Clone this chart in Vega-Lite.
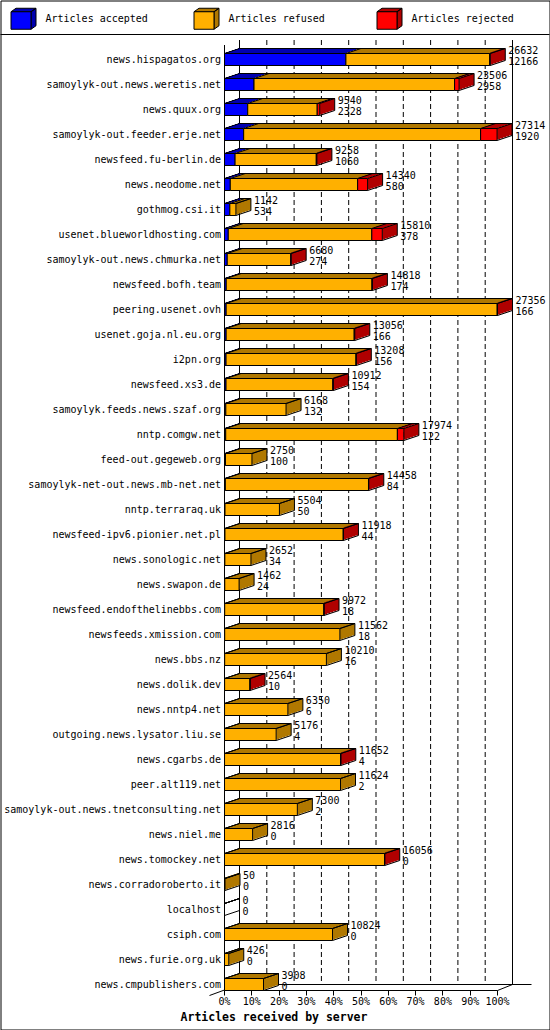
{
  "$schema": "https://vega.github.io/schema/vega-lite/v6.json",
  "width": 549,
  "height": 1029,
  "autosize": "none",
  "padding": 0.5,
  "background": "white",
  "datasets": {
    "servers": [
      {"server": "news.hispagatos.org", "offered": 26632, "accepted": 12166, "refused": 14406, "rejected": 60},
      {"server": "samoylyk-out.news.weretis.net", "offered": 23506, "accepted": 2958, "refused": 20098, "rejected": 450},
      {"server": "news.quux.org", "offered": 9540, "accepted": 2328, "refused": 6962, "rejected": 250},
      {"server": "samoylyk-out.feeder.erje.net", "offered": 27314, "accepted": 1920, "refused": 23744, "rejected": 1650},
      {"server": "newsfeed.fu-berlin.de", "offered": 9258, "accepted": 1060, "refused": 8138, "rejected": 60},
      {"server": "news.neodome.net", "offered": 14340, "accepted": 580, "refused": 12760, "rejected": 1000},
      {"server": "gothmog.csi.it", "offered": 1142, "accepted": 534, "refused": 608, "rejected": 0},
      {"server": "usenet.blueworldhosting.com", "offered": 15810, "accepted": 378, "refused": 14382, "rejected": 1050},
      {"server": "samoylyk-out.news.chmurka.net", "offered": 6680, "accepted": 274, "refused": 6366, "rejected": 40},
      {"server": "newsfeed.bofh.team", "offered": 14818, "accepted": 174, "refused": 14604, "rejected": 40},
      {"server": "peering.usenet.ovh", "offered": 27356, "accepted": 166, "refused": 27160, "rejected": 30},
      {"server": "usenet.goja.nl.eu.org", "offered": 13056, "accepted": 166, "refused": 12830, "rejected": 60},
      {"server": "i2pn.org", "offered": 13208, "accepted": 156, "refused": 13022, "rejected": 30},
      {"server": "newsfeed.xs3.de", "offered": 10912, "accepted": 154, "refused": 10698, "rejected": 60},
      {"server": "samoylyk.feeds.news.szaf.org", "offered": 6168, "accepted": 132, "refused": 6036, "rejected": 0},
      {"server": "nntp.comgw.net", "offered": 17974, "accepted": 122, "refused": 17202, "rejected": 650},
      {"server": "feed-out.gegeweb.org", "offered": 2750, "accepted": 100, "refused": 2650, "rejected": 0},
      {"server": "samoylyk-net-out.news.mb-net.net", "offered": 14458, "accepted": 84, "refused": 14344, "rejected": 30},
      {"server": "nntp.terraraq.uk", "offered": 5504, "accepted": 50, "refused": 5454, "rejected": 0},
      {"server": "newsfeed-ipv6.pionier.net.pl", "offered": 11918, "accepted": 44, "refused": 11854, "rejected": 20},
      {"server": "news.sonologic.net", "offered": 2652, "accepted": 34, "refused": 2618, "rejected": 0},
      {"server": "news.swapon.de", "offered": 1462, "accepted": 24, "refused": 1438, "rejected": 0},
      {"server": "newsfeed.endofthelinebbs.com", "offered": 9972, "accepted": 18, "refused": 9944, "rejected": 10},
      {"server": "newsfeeds.xmission.com", "offered": 11562, "accepted": 18, "refused": 11544, "rejected": 0},
      {"server": "news.bbs.nz", "offered": 10210, "accepted": 16, "refused": 10194, "rejected": 0},
      {"server": "news.dolik.dev", "offered": 2564, "accepted": 10, "refused": 2544, "rejected": 10},
      {"server": "news.nntp4.net", "offered": 6350, "accepted": 6, "refused": 6344, "rejected": 0},
      {"server": "outgoing.news.lysator.liu.se", "offered": 5176, "accepted": 4, "refused": 5172, "rejected": 0},
      {"server": "news.cgarbs.de", "offered": 11652, "accepted": 4, "refused": 11638, "rejected": 10},
      {"server": "peer.alt119.net", "offered": 11624, "accepted": 2, "refused": 11622, "rejected": 0},
      {"server": "samoylyk-out.news.tnetconsulting.net", "offered": 7300, "accepted": 2, "refused": 7298, "rejected": 0},
      {"server": "news.niel.me", "offered": 2816, "accepted": 0, "refused": 2816, "rejected": 0},
      {"server": "news.tomockey.net", "offered": 16056, "accepted": 0, "refused": 16046, "rejected": 10},
      {"server": "news.corradoroberto.it", "offered": 50, "accepted": 0, "refused": 50, "rejected": 0},
      {"server": "localhost", "offered": 0, "accepted": 0, "refused": 0, "rejected": 0},
      {"server": "csiph.com", "offered": 10824, "accepted": 0, "refused": 10824, "rejected": 0},
      {"server": "news.furie.org.uk", "offered": 426, "accepted": 0, "refused": 426, "rejected": 0},
      {"server": "news.cmpublishers.com", "offered": 3908, "accepted": 0, "refused": 3908, "rejected": 0}
    ],
    "grid": [
      {"pct": 0}, {"pct": 10}, {"pct": 20}, {"pct": 30}, {"pct": 40}, {"pct": 50},
      {"pct": 60}, {"pct": 70}, {"pct": 80}, {"pct": 90}, {"pct": 100}
    ]
  },
  "layer": [
    {
      "data": {"name": "grid"},
      "layer": [
        {
          "transform": [{"filter": "datum.pct == 0"}],
          "mark": {"type": "rule", "color": "black", "strokeWidth": 1, "yOffset": -25},
          "encoding": {
            "y": {"datum": "news.hispagatos.org", "type": "nominal"}
          }
        },
        {
          "mark": {"type": "rule", "color": "black", "strokeWidth": 1, "xOffset": 15, "yOffset": -19.5, "y2Offset": 0},
          "encoding": {
            "x": {
              "field": "pct", "type": "quantitative",
              "scale": {"domain": [0, 100], "range": [224, 497], "nice": false},
              "axis": {
                "orient": "bottom", "offset": -39, "translate": 0,
                "values": [0, 10, 20, 30, 40, 50, 60, 70, 80, 90, 100],
                "labelExpr": "datum.value + '%'",
                "domain": true, "domainColor": "black", "domainWidth": 1,
                "ticks": true, "tickColor": "black", "tickSize": 5, "tickWidth": 1,
                "labelPadding": 1, "labelFont": "DejaVu Sans Mono", "labelFontSize": 10,
                "labelColor": "black", "labelFlush": false, "labelOverlap": false,
                "grid": false,
                "title": "Articles received by server",
                "titleFont": "DejaVu Sans Mono", "titleFontSize": 11.5, "titleFontWeight": "bold",
                "titleColor": "black", "titleX": 273.5, "titleY": 27,
                "titleBaseline": "middle", "titleAlign": "center"
              }
            },
            "y": {"datum": "news.hispagatos.org", "type": "nominal"},
            "y2": {"datum": "news.cmpublishers.com"},
            "strokeDash": {
              "condition": {"test": "datum.pct == 0 || datum.pct == 100", "value": [1, 0]},
              "value": [5, 3]
            }
          }
        },
        {
          "transform": [{"filter": "datum.pct == 0"}],
          "mark": {"type": "rule", "color": "black", "strokeWidth": 1, "yOffset": -14.5, "y2Offset": 6},
          "encoding": {
            "x": {"field": "pct", "type": "quantitative"},
            "y": {"datum": "news.hispagatos.org", "type": "nominal"},
            "y2": {"datum": "news.cmpublishers.com"}
          }
        },
        {
          "transform": [{"filter": "datum.pct == 0"}],
          "mark": {"type": "rule", "color": "black", "strokeWidth": 1, "xOffset": 15, "x2Offset": 34},
          "encoding": {
            "x": {"field": "pct", "type": "quantitative"},
            "x2": {"datum": 100},
            "y": {"datum": "news.cmpublishers.com", "type": "nominal"}
          }
        },
        {
          "transform": [{"filter": "datum.pct == 0"}],
          "mark": {"type": "rule", "color": "black", "strokeWidth": 1, "xOffset": -15, "x2Offset": 15, "yOffset": 11, "y2Offset": 0},
          "encoding": {
            "x": {"field": "pct", "type": "quantitative"},
            "x2": {"field": "pct"},
            "y": {"datum": "news.cmpublishers.com", "type": "nominal"},
            "y2": {"datum": "news.cmpublishers.com"}
          }
        },
        {
          "transform": [{"filter": "datum.pct == 100"}],
          "mark": {"type": "rule", "color": "black", "strokeWidth": 1, "x2Offset": 15, "yOffset": 6, "y2Offset": 0},
          "encoding": {
            "x": {"field": "pct", "type": "quantitative"},
            "x2": {"field": "pct"},
            "y": {"datum": "news.cmpublishers.com", "type": "nominal"},
            "y2": {"datum": "news.cmpublishers.com"}
          }
        }
      ]
    },
    {
      "data": {"name": "servers"},
      "transform": [
        {"fold": ["accepted", "refused", "rejected"], "as": ["type", "n"]},
        {"stack": "n", "groupby": ["server"], "sort": [{"field": "type", "order": "ascending"}], "as": ["n0", "n1"]}
      ],
      "layer": [
        {
          "mark": {"type": "bar", "size": 1, "xOffset": 1.5, "x2Offset": 1.5, "yOffset": -7},
          "encoding": {
            "y": {
              "field": "server", "type": "nominal",
              "scale": {
                "domain": ["news.hispagatos.org", "samoylyk-out.news.weretis.net", "news.quux.org", "samoylyk-out.feeder.erje.net", "newsfeed.fu-berlin.de", "news.neodome.net", "gothmog.csi.it", "usenet.blueworldhosting.com", "samoylyk-out.news.chmurka.net", "newsfeed.bofh.team", "peering.usenet.ovh", "usenet.goja.nl.eu.org", "i2pn.org", "newsfeed.xs3.de", "samoylyk.feeds.news.szaf.org", "nntp.comgw.net", "feed-out.gegeweb.org", "samoylyk-net-out.news.mb-net.net", "nntp.terraraq.uk", "newsfeed-ipv6.pionier.net.pl", "news.sonologic.net", "news.swapon.de", "newsfeed.endofthelinebbs.com", "newsfeeds.xmission.com", "news.bbs.nz", "news.dolik.dev", "news.nntp4.net", "outgoing.news.lysator.liu.se", "news.cgarbs.de", "peer.alt119.net", "samoylyk-out.news.tnetconsulting.net", "news.niel.me", "news.tomockey.net", "news.corradoroberto.it", "localhost", "csiph.com", "news.furie.org.uk", "news.cmpublishers.com"],
                "range": [46.5, 996.5], "paddingInner": 0, "paddingOuter": 0
              },
              "axis": {
                "orient": "left", "offset": -224, "domain": false, "ticks": false, "grid": false,
                "labelPadding": 4, "labelLimit": 400, "title": null,
                "labelFont": "DejaVu Sans Mono", "labelFontSize": 10, "labelColor": "black"
              }
            },
            "x": {"field": "n0", "type": "quantitative", "axis": null, "scale": {"domain": [0, 27356], "range": [224, 497], "nice": false}},
            "x2": {"field": "n1"},
            "fill": {
              "field": "type", "type": "nominal",
              "scale": {"range": ["#0000b0", "#b07800", "#b00000"]},
              "legend": {
                "orient": "none", "legendX": 10, "legendY": 5, "direction": "horizontal",
                "title": null, "padding": 0, "gridAlign": "all", "columnPadding": 43,
                "symbolType": "M-1,-0.56L-0.6,-0.84H1L0.6,-0.56ZM0.6,-0.56L1,-0.84V0.56L0.6,0.84Z",
                "symbolSize": 625, "symbolStrokeColor": "black", "symbolStrokeWidth": 1, "symbolOpacity": 1,
                "labelExpr": "'Articles ' + datum.label", "labelOpacity": 0,
                "labelFont": "DejaVu Sans Mono", "labelFontSize": 10, "labelOffset": 9
              }
            }
          }
        },
        {
          "mark": {"type": "bar", "size": 1, "xOffset": 4.5, "x2Offset": 4.5, "yOffset": -8},
          "encoding": {
            "y": {"field": "server", "type": "nominal"},
            "x": {"field": "n0", "type": "quantitative", "axis": null},
            "x2": {"field": "n1"},
            "fill": {"field": "type", "type": "nominal"}
          }
        },
        {
          "mark": {"type": "bar", "size": 1, "xOffset": 7.5, "x2Offset": 7.5, "yOffset": -9},
          "encoding": {
            "y": {"field": "server", "type": "nominal"},
            "x": {"field": "n0", "type": "quantitative", "axis": null},
            "x2": {"field": "n1"},
            "fill": {"field": "type", "type": "nominal"}
          }
        },
        {
          "mark": {"type": "bar", "size": 1, "xOffset": 10.5, "x2Offset": 10.5, "yOffset": -10},
          "encoding": {
            "y": {"field": "server", "type": "nominal"},
            "x": {"field": "n0", "type": "quantitative", "axis": null},
            "x2": {"field": "n1"},
            "fill": {"field": "type", "type": "nominal"}
          }
        },
        {
          "mark": {"type": "bar", "size": 1, "xOffset": 13.5, "x2Offset": 13.5, "yOffset": -11},
          "encoding": {
            "y": {"field": "server", "type": "nominal"},
            "x": {"field": "n0", "type": "quantitative", "axis": null},
            "x2": {"field": "n1"},
            "fill": {"field": "type", "type": "nominal"}
          }
        },
        {
          "transform": [{"filter": "datum.type == 'accepted' && datum.offered > 0"}],
          "mark": {"type": "bar", "size": 12, "xOffset": 0, "x2Offset": 3, "yOffset": -1},
          "encoding": {
            "y": {"field": "server", "type": "nominal"},
            "x": {"field": "offered", "type": "quantitative", "axis": null},
            "x2": {"field": "offered"},
            "fill": {"condition": [{"test": "datum.rejected > 0", "value": "#b00000"}, {"test": "datum.refused > 0", "value": "#b07800"}], "value": "#0000b0"}
          }
        },
        {
          "transform": [{"filter": "datum.type == 'accepted' && datum.offered > 0"}],
          "mark": {"type": "bar", "size": 12, "xOffset": 2, "x2Offset": 6, "yOffset": -2},
          "encoding": {
            "y": {"field": "server", "type": "nominal"},
            "x": {"field": "offered", "type": "quantitative", "axis": null},
            "x2": {"field": "offered"},
            "fill": {"condition": [{"test": "datum.rejected > 0", "value": "#b00000"}, {"test": "datum.refused > 0", "value": "#b07800"}], "value": "#0000b0"}
          }
        },
        {
          "transform": [{"filter": "datum.type == 'accepted' && datum.offered > 0"}],
          "mark": {"type": "bar", "size": 12, "xOffset": 5, "x2Offset": 9, "yOffset": -3},
          "encoding": {
            "y": {"field": "server", "type": "nominal"},
            "x": {"field": "offered", "type": "quantitative", "axis": null},
            "x2": {"field": "offered"},
            "fill": {"condition": [{"test": "datum.rejected > 0", "value": "#b00000"}, {"test": "datum.refused > 0", "value": "#b07800"}], "value": "#0000b0"}
          }
        },
        {
          "transform": [{"filter": "datum.type == 'accepted' && datum.offered > 0"}],
          "mark": {"type": "bar", "size": 12, "xOffset": 8, "x2Offset": 12, "yOffset": -4},
          "encoding": {
            "y": {"field": "server", "type": "nominal"},
            "x": {"field": "offered", "type": "quantitative", "axis": null},
            "x2": {"field": "offered"},
            "fill": {"condition": [{"test": "datum.rejected > 0", "value": "#b00000"}, {"test": "datum.refused > 0", "value": "#b07800"}], "value": "#0000b0"}
          }
        },
        {
          "transform": [{"filter": "datum.type == 'accepted' && datum.offered > 0"}],
          "mark": {"type": "bar", "size": 12, "xOffset": 11, "x2Offset": 15, "yOffset": -5},
          "encoding": {
            "y": {"field": "server", "type": "nominal"},
            "x": {"field": "offered", "type": "quantitative", "axis": null},
            "x2": {"field": "offered"},
            "fill": {"condition": [{"test": "datum.rejected > 0", "value": "#b00000"}, {"test": "datum.refused > 0", "value": "#b07800"}], "value": "#0000b0"}
          }
        },
        {
          "transform": [{"filter": "datum.n > 0"}],
          "mark": {"type": "bar", "size": 12, "stroke": "black", "strokeWidth": 1},
          "encoding": {
            "y": {"field": "server", "type": "nominal"},
            "x": {"field": "n0", "type": "quantitative", "axis": null},
            "x2": {"field": "n1"},
            "color": {
              "field": "type", "type": "nominal",
              "scale": {"range": ["#0000ff", "#ffb000", "#ff0000"]},
              "legend": {
                "orient": "none", "legendX": 10, "legendY": 5, "direction": "horizontal",
                "title": null, "padding": 0, "gridAlign": "all", "columnPadding": 43,
                "symbolType": "M-1,-0.56H0.6V0.84H-1Z",
                "symbolSize": 625, "symbolStrokeColor": "black", "symbolStrokeWidth": 1, "symbolOpacity": 1,
                "labelExpr": "'Articles ' + datum.label",
                "labelFont": "DejaVu Sans Mono", "labelFontSize": 10, "labelColor": "black", "labelOffset": 9
              }
            }
          }
        },
        {
          "mark": {"type": "rule", "color": "black", "strokeWidth": 1, "x2Offset": 15, "yOffset": -6, "y2Offset": -11},
          "encoding": {
            "y": {"field": "server", "type": "nominal"},
            "y2": {"field": "server"},
            "x": {"field": "n1", "type": "quantitative", "axis": null},
            "x2": {"field": "n1"}
          }
        },
        {
          "transform": [{"filter": "datum.type == 'accepted'"}],
          "mark": {"type": "rule", "color": "black", "strokeWidth": 1, "x2Offset": 15, "yOffset": -6, "y2Offset": -11},
          "encoding": {
            "y": {"field": "server", "type": "nominal"},
            "y2": {"field": "server"},
            "x": {"field": "n0", "type": "quantitative", "axis": null},
            "x2": {"field": "n0"}
          }
        },
        {
          "transform": [{"filter": "datum.type == 'accepted'"}],
          "mark": {"type": "rule", "color": "black", "strokeWidth": 1, "x2Offset": 15, "yOffset": 6, "y2Offset": 1},
          "encoding": {
            "y": {"field": "server", "type": "nominal"},
            "y2": {"field": "server"},
            "x": {"field": "offered", "type": "quantitative", "axis": null},
            "x2": {"field": "offered"}
          }
        },
        {
          "transform": [{"filter": "datum.type == 'accepted' && datum.offered > 0"}],
          "mark": {"type": "rule", "color": "black", "strokeWidth": 1, "xOffset": 15, "x2Offset": 15, "yOffset": -11},
          "encoding": {
            "y": {"field": "server", "type": "nominal"},
            "x": {"field": "n0", "type": "quantitative", "axis": null},
            "x2": {"field": "offered"}
          }
        },
        {
          "transform": [{"filter": "datum.type == 'accepted' && datum.offered > 0"}],
          "mark": {"type": "rule", "color": "black", "strokeWidth": 1, "xOffset": 15, "yOffset": -11, "y2Offset": 1},
          "encoding": {
            "y": {"field": "server", "type": "nominal"},
            "y2": {"field": "server"},
            "x": {"field": "offered", "type": "quantitative", "axis": null}
          }
        },
        {
          "transform": [{"filter": "datum.type == 'accepted'"}],
          "mark": {"type": "text", "align": "left", "baseline": "middle", "dx": 18, "dy": -9, "font": "DejaVu Sans Mono", "fontSize": 10, "color": "black"},
          "encoding": {
            "y": {"field": "server", "type": "nominal"},
            "x": {"field": "offered", "type": "quantitative", "axis": null},
            "text": {"field": "offered", "type": "quantitative", "format": "d"}
          }
        },
        {
          "transform": [{"filter": "datum.type == 'accepted'"}],
          "mark": {"type": "text", "align": "left", "baseline": "middle", "dx": 18, "dy": 2, "font": "DejaVu Sans Mono", "fontSize": 10, "color": "black"},
          "encoding": {
            "y": {"field": "server", "type": "nominal"},
            "x": {"field": "offered", "type": "quantitative", "axis": null},
            "text": {"field": "accepted", "type": "quantitative", "format": "d"}
          }
        }
      ]
    }
  ],
  "resolve": {"scale": {"x": "independent"}, "axis": {"x": "independent"}},
  "config": {
    "font": "DejaVu Sans Mono",
    "view": {"stroke": "black", "strokeWidth": 1},
    "axis": {"labelColor": "black"}
  }
}
